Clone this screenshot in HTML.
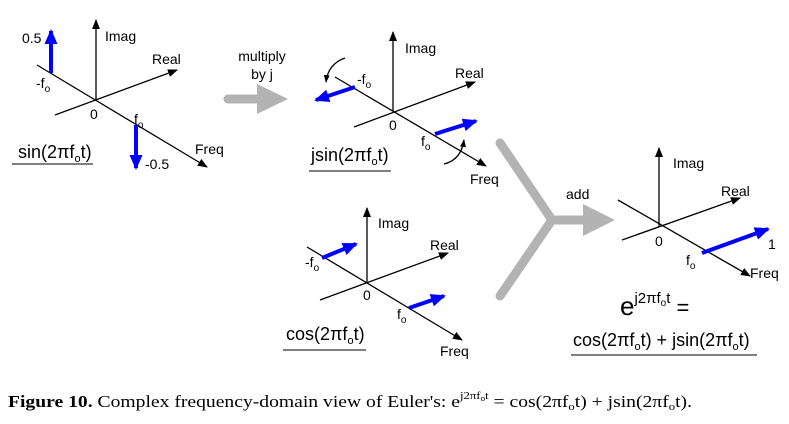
<!DOCTYPE html>
<html><head><style>
html,body{margin:0;padding:0;background:#fff;}
svg{display:block;}
.t{font-family:"Liberation Sans",sans-serif;font-size:14px;fill:#000;}
.f{font-family:"Liberation Sans",sans-serif;font-size:18px;fill:#000;}
.c{font-family:"Liberation Serif",serif;font-size:17px;fill:#000;}
.s{font-size:10px;}
.ax{stroke:#000;stroke-width:1.3;fill:none;}
.bl{stroke:#0000ff;stroke-width:4;fill:none;}
.gr{stroke:#b3b3b3;stroke-width:9;fill:none;stroke-linecap:round;}
</style></head><body>
<svg width="789" height="424" viewBox="0 0 789 424" xmlns="http://www.w3.org/2000/svg">
<defs>
<marker id="ah" markerWidth="10" markerHeight="8" refX="9" refY="4" orient="auto" markerUnits="userSpaceOnUse"><path d="M0,0 L10,4 L0,8 z" fill="#000"/></marker>
<marker id="bh" markerWidth="15" markerHeight="13" refX="13" refY="6.5" orient="auto" markerUnits="userSpaceOnUse"><path d="M0,0 L15,6.5 L0,13 z" fill="#0000ff"/></marker>
<marker id="sh" markerWidth="8" markerHeight="6" refX="7" refY="3" orient="auto" markerUnits="userSpaceOnUse"><path d="M0,0 L8,3 L0,6 z" fill="#000"/></marker>
</defs>

<!-- Diagram 1 -->
<line class="ax" x1="96" y1="100" x2="96" y2="20" marker-end="url(#ah)"/>
<line class="ax" x1="55" y1="115" x2="177" y2="70" marker-end="url(#ah)"/>
<line class="ax" x1="37" y1="65" x2="207" y2="167" marker-end="url(#ah)"/>
<line class="bl" x1="51" y1="73" x2="51" y2="31" marker-end="url(#bh)"/>
<line class="bl" x1="136" y1="125" x2="136" y2="168" marker-end="url(#bh)"/>
<text class="t" x="105" y="41">Imag</text>
<text class="t" x="152" y="64">Real</text>
<text class="t" x="22" y="43">0.5</text>
<text class="t" x="36" y="88">-f<tspan class="s" dy="4">o</tspan></text>
<text class="t" x="90" y="119">0</text>
<text class="t" x="134" y="124">f<tspan class="s" dy="4">o</tspan></text>
<text class="t" x="195" y="154">Freq</text>
<text class="t" x="145" y="169">-0.5</text>
<text class="f" x="18" y="158">sin(2πf<tspan style="font-size:11px" dy="4">o</tspan><tspan dy="-4">t)</tspan></text>
<line x1="12" y1="164" x2="93" y2="164" stroke="#000" stroke-width="1"/>

<!-- multiply arrow -->
<line class="gr" x1="228" y1="99" x2="260" y2="99"/>
<path d="M257,84 L288,99 L257,114 z" fill="#b3b3b3"/>
<text class="t" x="262" y="61" text-anchor="middle">multiply</text>
<text class="t" x="262" y="79" text-anchor="middle">by j</text>

<!-- Diagram 2 -->
<line class="ax" x1="393" y1="111" x2="393" y2="32" marker-end="url(#ah)"/>
<line class="ax" x1="354" y1="127" x2="475" y2="82" marker-end="url(#ah)"/>
<line class="ax" x1="335" y1="77" x2="486" y2="166" marker-end="url(#ah)"/>
<line class="bl" x1="355" y1="87" x2="316" y2="100" marker-end="url(#bh)"/>
<line class="bl" x1="435" y1="134" x2="476" y2="121" marker-end="url(#bh)"/>
<path d="M345,58 Q328,64 326,82" class="ax" stroke-width="1" marker-end="url(#sh)"/>
<path d="M444,164 Q461,160 464,140" class="ax" stroke-width="1" marker-end="url(#sh)"/>
<text class="t" x="405" y="53">Imag</text>
<text class="t" x="455" y="78">Real</text>
<text class="t" x="357" y="84">-f<tspan class="s" dy="4">o</tspan></text>
<text class="t" x="389" y="130">0</text>
<text class="t" x="421" y="146">f<tspan class="s" dy="4">o</tspan></text>
<text class="t" x="470" y="184">Freq</text>
<text class="f" x="311" y="161">jsin(2πf<tspan style="font-size:11px" dy="4">o</tspan><tspan dy="-4">t)</tspan></text>
<line x1="309" y1="171" x2="391" y2="171" stroke="#000" stroke-width="1"/>

<!-- Diagram 3 -->
<line class="ax" x1="367" y1="283" x2="367" y2="208" marker-end="url(#ah)"/>
<line class="ax" x1="320" y1="300" x2="448" y2="253" marker-end="url(#ah)"/>
<line class="ax" x1="307" y1="247" x2="462" y2="340" marker-end="url(#ah)"/>
<line class="bl" x1="322" y1="258" x2="356" y2="244" marker-end="url(#bh)"/>
<line class="bl" x1="409" y1="308" x2="444" y2="296" marker-end="url(#bh)"/>
<text class="t" x="378" y="228">Imag</text>
<text class="t" x="430" y="250">Real</text>
<text class="t" x="305" y="267">-f<tspan class="s" dy="4">o</tspan></text>
<text class="t" x="363" y="300">0</text>
<text class="t" x="397" y="319">f<tspan class="s" dy="4">o</tspan></text>
<text class="t" x="440" y="356">Freq</text>
<text class="f" x="286" y="340">cos(2πf<tspan style="font-size:11px" dy="4">o</tspan><tspan dy="-4">t)</tspan></text>
<line x1="283" y1="350" x2="366" y2="350" stroke="#000" stroke-width="1"/>

<!-- Y add arrow -->
<polyline class="gr" points="500,143 552,220 500,296" stroke-linejoin="miter"/>
<line class="gr" x1="552" y1="220" x2="588" y2="220"/>
<path d="M583,204 L615,220 L583,236 z" fill="#b3b3b3"/>
<text class="t" x="566" y="199">add</text>

<!-- Diagram 4 -->
<line class="ax" x1="659" y1="227" x2="659" y2="148" marker-end="url(#ah)"/>
<line class="ax" x1="622" y1="240" x2="740" y2="198" marker-end="url(#ah)"/>
<line class="ax" x1="618" y1="200" x2="750" y2="276" marker-end="url(#ah)"/>
<line class="bl" x1="702" y1="253" x2="768" y2="229" marker-end="url(#bh)"/>
<text class="t" x="673" y="168">Imag</text>
<text class="t" x="721" y="196">Real</text>
<text class="t" x="655" y="246">0</text>
<text class="t" x="768" y="249">1</text>
<text class="t" x="686" y="265">f<tspan class="s" dy="4">o</tspan></text>
<text class="t" x="750" y="278">Freq</text>
<text class="f" x="620" y="315" style="font-size:26px">e<tspan style="font-size:15px" dy="-12">j2πf</tspan><tspan style="font-size:10px" dy="3">o</tspan><tspan style="font-size:15px" dy="-3">t</tspan><tspan style="font-size:22px" dy="12"> =</tspan></text>
<text class="f" x="573" y="346">cos(2πf<tspan style="font-size:11px" dy="4">o</tspan><tspan dy="-4">t) + jsin(2πf</tspan><tspan style="font-size:11px" dy="4">o</tspan><tspan dy="-4">t)</tspan></text>
<line x1="571" y1="355" x2="757" y2="355" stroke="#000" stroke-width="1"/>

<!-- caption -->
<text class="c" x="8" y="407" textLength="684" lengthAdjust="spacingAndGlyphs"><tspan font-weight="bold">Figure 10.</tspan>  Complex frequency-domain view of Euler's: e<tspan style="font-size:11px" dy="-8">j2πf</tspan><tspan style="font-size:8px" dy="2">o</tspan><tspan style="font-size:11px" dy="-2">t</tspan><tspan dy="8"> = cos(2πf</tspan><tspan style="font-size:11px" dy="3">o</tspan><tspan dy="-3">t) + jsin(2πf</tspan><tspan style="font-size:11px" dy="3">o</tspan><tspan dy="-3">t).</tspan></text>
</svg>
</body></html>
